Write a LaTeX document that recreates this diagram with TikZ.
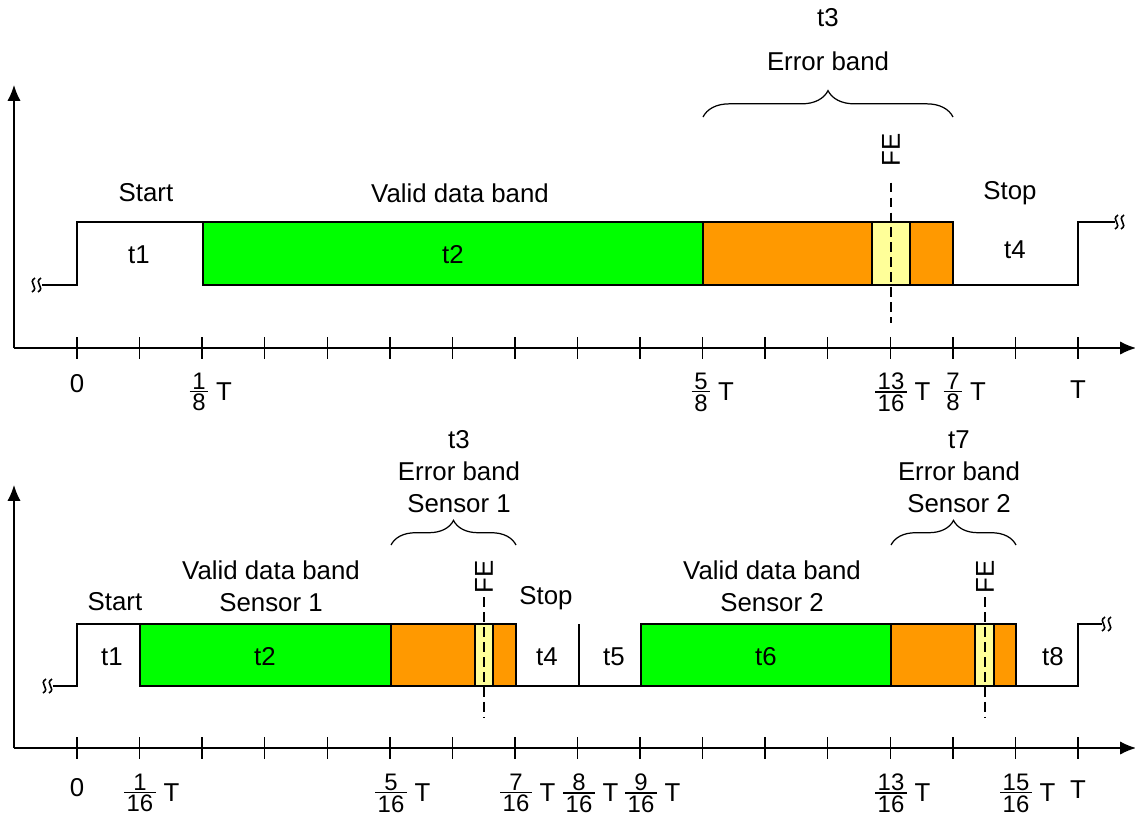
\documentclass[tikz,border=0pt]{standalone}
\usepackage{fontspec}
\setmainfont{Liberation Sans}
\usetikzlibrary{arrows.meta,decorations.pathreplacing,positioning}

\definecolor{validgreen}{HTML}{00FF00}
\definecolor{errorange}{HTML}{FF9900}
\definecolor{feyellow}{HTML}{FFFF99}

% stacked fraction for the tick labels
\newcommand{\fr}[2]{{\fontsize{13.6}{15}\selectfont\vbox{\offinterlineskip
    \halign{\hfil\kern1.5pt##\kern1.5pt\hfil\cr #1\cr
    \noalign{\kern1.1pt\hrule height 0.6pt\kern1.1pt}#2\cr}}}}

\tikzset{
    sig/.style={line width=0.8pt},
    lbl/.style={font=\fontsize{14.7}{18.2}\selectfont, inner sep=0pt, align=center},
    validbox/.style={draw, line width=0.8pt, fill=validgreen},
    errbox/.style={draw, line width=0.8pt, fill=errorange},
    febox/.style={draw, line width=0.8pt, fill=feyellow},
    feline/.style={line width=1.1pt, dash pattern=on 5.5pt off 3pt},
    brc/.style={line width=0.7pt, decorate, decoration={brace, amplitude=#1}},
    axis/.style={line width=0.8pt, -{Latex[length=9pt,width=7.5pt]}},
    brk/.pic={
        \draw[line width=0.9pt] (-2,-7) .. controls (-10,-2) and (3,2) .. (-5,7);
        \draw[line width=0.9pt] (4,-7) .. controls (-4,-2) and (9,2) .. (1,7);
    }
}

\begin{document}
\begin{tikzpicture}[x=0.02cm, y=-0.02cm]
    \useasboundingbox (0,0) rectangle (1135,816);

    % ---------------- upper diagram ----------------
    % Draw the axes
    \draw[axis] (14,348) -- (14,85);
    \draw[axis] (14,348) -- (1136,348);

    % Draw tick marks
    \foreach \k in {0,...,16} {
        \draw[sig] ({77+62.5625*\k},337) -- ++(0,22);
    }

    % Draw the signal
    \draw[sig] (42,285) -- (77,285) -- (77,222) -- (203,222);
    \draw[validbox] (203,222) rectangle (703,285);
    \draw[errbox] (703,222) rectangle (953,285);
    \draw[febox] (872,222) rectangle (910,285);
    \draw[sig] (953,285) -- (1078,285) -- (1078,222) -- (1115,222);
    \pic at (37,285) {brk};
    \pic at (1120,222) {brk};

    % Band labels
    \node[lbl] (start1) at (146,193) {Start};
    \node[lbl] (valid1) at (460,193) {Valid data band};
    \node[lbl] (stop1) at (1010,193) {Stop};
    \node[lbl] (ta1) at (139,255) {t1};
    \node[lbl] (ta2) at (453,255) {t2};
    \node[lbl] (ta4) at (1015,250) {t4};

    % Error band with brace
    \draw[brc=15pt] (703,117) -- (953,117);
    \node[lbl] (err1) at (828,61) {Error band};
    \node[lbl] (ta3) at (828,18) {t3};

    % Falling edge marker
    \node[lbl, rotate=90] (fe1) at (891,150) {FE};
    \coordinate (fe1e) at (891,323);
    \draw[feline, shorten <=9pt] (fe1.west) -- (fe1e);

    % Tick labels
    \node[lbl] (za0) at (77,384) {0};
    \foreach \x/\n/\d in {199/1/8, 701/5/8, 891/13/16, 953/7/8} {
        \node[lbl] (fa\x) at (\x,392) {\fr{\n}{\d}};
        \node[lbl, right=4pt of fa\x] {T};
    }
    \node[lbl] (zaT) at (1078,390) {T};

    % ---------------- lower diagram ----------------
    % Draw the axes
    \draw[axis] (14,748) -- (14,485);
    \draw[axis] (14,748) -- (1136,748);

    % Draw tick marks
    \foreach \k in {0,...,16} {
        \draw[sig] ({77+62.5625*\k},737) -- ++(0,22);
    }

    % Draw the signal
    \draw[sig] (53,686) -- (77,686) -- (77,624) -- (140,624);
    \draw[validbox] (140,624) rectangle (391,686);
    \draw[errbox] (391,624) rectangle (516,686);
    \draw[febox] (475,624) rectangle (493,686);
    \draw[sig] (516,686) -- (641,686);
    \draw[sig] (579,624) -- (579,686);
    \draw[validbox] (641,624) rectangle (891,686);
    \draw[errbox] (891,624) rectangle (1016,686);
    \draw[febox] (975,624) rectangle (994,686);
    \draw[sig] (1016,686) -- (1078,686) -- (1078,624) -- (1102,624);
    \pic at (48,686) {brk};
    \pic at (1107,624) {brk};

    % Band labels
    \node[lbl] (start2) at (115,602) {Start};
    \node[lbl] (valid2) at (271,586) {Valid data band\\Sensor 1};
    \node[lbl] (stop2) at (546,598) {Stop};
    \node[lbl] (valid3) at (772,586) {Valid data band\\Sensor 2};
    \node[lbl] (tb1) at (112,657) {t1};
    \node[lbl] (tb2) at (265,657) {t2};
    \node[lbl] (tb4) at (547,657) {t4};
    \node[lbl] (tb5) at (614,657) {t5};
    \node[lbl] (tb6) at (766,657) {t6};
    \node[lbl] (tb8) at (1053,657) {t8};

    % Error bands with braces
    \draw[brc=14pt] (391,545) -- (516,545);
    \node[lbl] (err2) at (459,472) {t3\\Error band\\Sensor 1};
    \draw[brc=14pt] (891,545) -- (1016,545);
    \node[lbl] (err3) at (959,472) {t7\\Error band\\Sensor 2};

    % Falling edge markers
    \node[lbl, rotate=90] (fe2) at (484,577) {FE};
    \coordinate (fe2e) at (484,718);
    \draw[feline, shorten <=2pt] (fe2.west) -- (fe2e);
    \node[lbl, rotate=90] (fe3) at (985,577) {FE};
    \coordinate (fe3e) at (985,718);
    \draw[feline, shorten <=2pt] (fe3.west) -- (fe3e);

    % Tick labels
    \node[lbl] (zb0) at (77,788) {0};
    \foreach \x/\n in {140/1, 391/5, 516/7, 579/8, 641/9, 891/13, 1016/15} {
        \node[lbl] (fb\x) at (\x,793) {\fr{\n}{16}};
        \node[lbl, right=4pt of fb\x] {T};
    }
    \node[lbl] (zbT) at (1078,790) {T};
\end{tikzpicture}
\end{document}
